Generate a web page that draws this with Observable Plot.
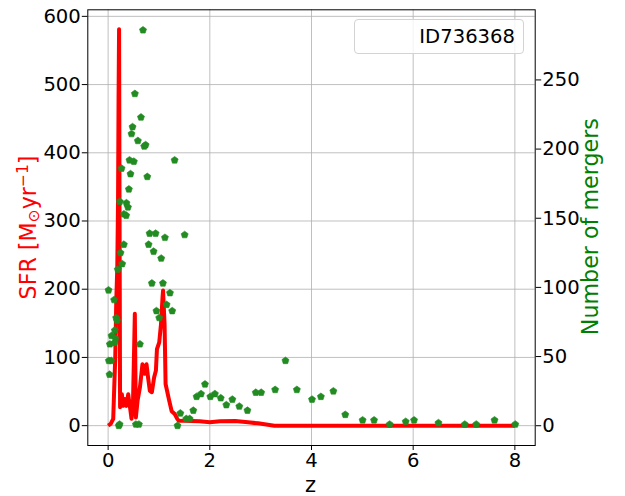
<!DOCTYPE html>
<html><head><meta charset="utf-8">
<script src="https://cdn.jsdelivr.net/npm/d3@7"></script>
<script src="https://cdn.jsdelivr.net/npm/@observablehq/plot@0.6"></script>
<style>
html,body{margin:0;padding:0;background:#fff;}
#wrap{position:relative;width:625px;height:496px;font-family:"DejaVu Sans";}
#wrap svg{position:absolute;left:0;top:0;}
#legend{position:absolute;left:354px;top:19px;width:170px;height:35px;box-sizing:border-box;border:1px solid #d3d3d3;border-radius:4px;background:rgba(255,255,255,0.8);font-family:"DejaVu Sans";font-size:19.6px;color:#000;text-align:right;padding-right:8px;line-height:33px;}
</style>
</head><body>
<div id="wrap"></div>
<script>
// ---- data ----
const xTicks = [0, 2, 4, 6, 8];
const sfrTicks = [0, 100, 200, 300, 400, 500, 600];
const mergerTicks = [0, 50, 100, 150, 200, 250];

const sfrZ = [0, 0.05, 0.1, 0.12, 0.14, 0.16, 0.18, 0.195, 0.205, 0.215, 0.225, 0.235, 0.27, 0.295, 0.335, 0.36, 0.395, 0.43, 0.46, 0.49, 0.525, 0.545, 0.58, 0.625, 0.675, 0.72, 0.755, 0.785, 0.82, 0.86, 0.905, 0.94, 0.96, 1.005, 1.04, 1.07, 1.08, 1.11, 1.13, 1.2, 1.25, 1.31, 1.36, 1.39, 1.5, 1.8, 2.0, 2.2, 2.5, 2.75, 2.95, 3.27, 4, 5, 6, 7, 8];
const sfrValues = [0, 2.5, 10, 56, 100, 183, 232, 330, 480, 581, 300, 27, 46, 29, 39, 29, 46, 27, 10, 37, 164, 12, 37, 56, 90, 76, 90, 71, 51, 49, 71, 81, 112, 122, 149, 188, 198, 149, 61, 37, 21, 17, 10, 7, 7.3, 6.5, 5, 6.3, 6.8, 4.9, 3.4, 0, 0, 0, 0, 0, 0];

const mergerZ = [0.686, 0.526, 0.646, 0.48, 0.46, 0.585, 0.71, 0.737, 0.42, 0.506, 1.308, 0.264, 0.44, 0.77, 0.408, 0.23, 0.36, 0.39, 0.31, 0.355, 0.816, 0.934, 1.117, 1.505, 0.796, 0.894, 1.044, 0.309, 0.244, 0.276, 0.19, 0.86, 1.078, 1.216, 0.008, 0.118, 1.15, 1.26, 0.95, 1.005, 0.158, 0.177, 0.132, 0.067, 0.146, 0.034, 0.126, 0.625, 0.014, 0.06, 0.028, 0.21, 0.225, 0.546, 0.605, 1.905, 1.74, 1.827, 1.675, 1.42, 1.537, 1.603, 1.365, 2.01, 2.10, 2.215, 2.325, 2.443, 2.58, 2.74, 2.904, 3.01, 3.285, 3.488, 3.712, 4.01, 4.185, 4.43, 4.664, 5.005, 5.23, 5.537, 5.853, 6.017, 6.497, 7.015, 7.24, 7.6, 8.008];
const mergerN = [286, 240, 223, 216, 211, 206, 202, 203, 192, 191, 192, 186, 182, 180, 171, 162, 161, 158, 153, 152, 139, 139, 136, 138, 131, 126, 121, 131, 125, 117, 113, 103, 103, 96, 98, 91, 87.5, 83, 83, 78, 78, 76, 69, 65, 63, 59, 60, 59, 47, 47, 37, 0, 1, 1, 1, 30, 21, 23, 11, 9, 5, 5, 0, 21, 23, 20, 15, 19, 14, 11, 24, 24, 26, 47, 26, 19, 21, 25, 8, 4, 4, 1, 3, 4, 2, 1, 1, 4, 1];

const legendLabel = "ID736368";

// ---- tables ----
const sfr = sfrZ.map((z, i) => ({z, v: sfrValues[i]}));
const mergers = mergerZ.map((z, i) => ({z, n: mergerN[i]}));

const W = 625, H = 496, mL = 87.3, mR = 90.3, mT = 9.3, mB = 51;
const font = {fontFamily: "DejaVu Sans", fontSize: "19.6px", color: "black", overflow: "visible"};
const labelSize = "22.2px";

const pentagon = {
  draw(ctx, size) {
    const r = Math.sqrt(size / Math.PI) * 1.12;
    for (let k = 0; k < 5; k++) {
      const a = -Math.PI / 2 + k * 2 * Math.PI / 5;
      const px = r * Math.cos(a), py = r * Math.sin(a);
      if (k) ctx.lineTo(px, py); else ctx.moveTo(px, py);
    }
    ctx.closePath();
  }
};

const p1 = Plot.plot({
  width: W, height: H, marginLeft: mL, marginRight: mR, marginTop: mT, marginBottom: mB,
  style: {...font, background: "white"},
  x: {domain: [-0.4, 8.4]},
  y: {domain: [-29.1, 609.6]},
  marks: [
    Plot.gridX(xTicks, {stroke: "#b0b0b0", strokeOpacity: 1, strokeWidth: 0.8}),
    Plot.gridY(sfrTicks, {stroke: "#b0b0b0", strokeOpacity: 1, strokeWidth: 0.8}),
    Plot.axisX(xTicks, {tickSize: 5, tickPadding: 2.8, label: null, tickFormat: d => String(d)}),
    Plot.axisY(sfrTicks, {tickSize: 5.5, tickPadding: 1.5, label: null, tickFormat: d => String(d)}),
    Plot.line(sfr, {x: "z", y: "v", stroke: "#ff0000", strokeWidth: 4, strokeLinejoin: "round", strokeLinecap: "butt"})
  ]
});

const p2 = Plot.plot({
  width: W, height: H, marginLeft: mL, marginRight: mR, marginTop: mT, marginBottom: mB,
  style: {...font, background: "transparent"},
  x: {domain: [-0.4, 8.4], axis: null},
  y: {domain: [-14.3, 300.7], axis: null},
  marks: [
    Plot.axisY(mergerTicks, {anchor: "right", tickSize: 5.5, tickPadding: 1.5, label: null, tickFormat: d => String(d)}),
    Plot.dot(mergers, {x: "z", y: "n", r: 3.3, symbol: pentagon, fill: "#228B22", stroke: "#228B22", strokeWidth: 0.6}),
    Plot.frame({stroke: "#000", strokeWidth: 1})
  ]
});

const wrap = document.getElementById("wrap");
wrap.append(p1, p2);

// axis labels
const s1 = d3.select(p1);
s1.append("text").attr("x", 310.5).attr("y", 491.5).attr("text-anchor", "middle")
  .attr("font-size", "21px").attr("fill", "black").text("z");
const lt = s1.append("text").attr("transform", "translate(36,227.5) rotate(-90)")
  .attr("text-anchor", "middle").attr("font-size", labelSize).attr("fill", "#ff0000");
lt.append("tspan").text("SFR [M");
lt.append("tspan").attr("font-size", "15.5px").attr("dy", "3").text("⊙");
lt.append("tspan").attr("dy", "-3").text("yr");
lt.append("tspan").attr("font-size", "15.5px").attr("dy", "-8.5").text("−1");
lt.append("tspan").attr("dy", "8.5").text("]");

const s2 = d3.select(p2);
s2.append("text").attr("transform", "translate(598,226.7) rotate(-90)")
  .attr("text-anchor", "middle").attr("font-size", labelSize).attr("fill", "#008000")
  .text("Number of mergers");

// legend
const lg = document.createElement("div");
lg.id = "legend";
lg.textContent = legendLabel;
wrap.append(lg);
</script>
</body></html>
